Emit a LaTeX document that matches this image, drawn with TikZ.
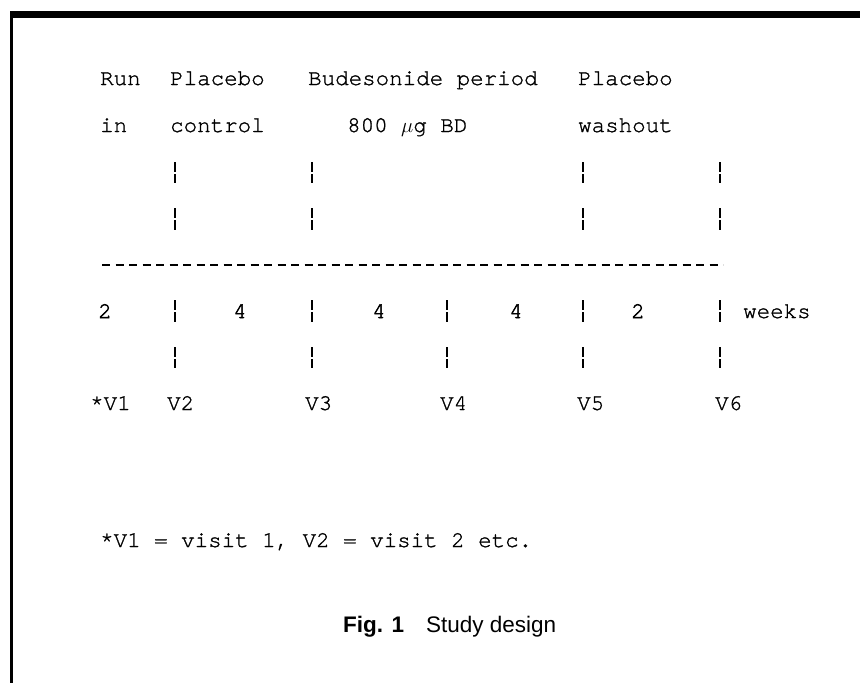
\documentclass[tikz,border=0pt]{standalone}
\usepackage{fontspec}
\newfontfamily\typefont[FakeBold=1.2]{TeX Gyre Cursor}
\newfontfamily\numfont[FakeBold=2.2]{TeX Gyre Cursor}
\newfontfamily\capfont{Liberation Sans}
\begin{document}
\begin{tikzpicture}[x=1pt,y=-1pt,
    txt/.style={anchor=base west,inner sep=0pt,font=\typefont\fontsize{22.5}{27}\selectfont},
    num/.style={txt,anchor=base,font=\numfont\fontsize{22.5}{27}\selectfont},
    captxt/.style={anchor=base west,inner sep=0pt,font=\capfont\fontsize{22.5}{27}\selectfont},
    bar/.style={line width=1.4pt,dash pattern=on 10pt off 2pt}]
    \useasboundingbox (0,0) rectangle (860,683);
    % frame
    \draw[line width=7pt] (10,14.5) -- (860,14.5);
    \draw[line width=2.5pt] (11.25,11) -- (11.25,683);
    % periods
    \node[txt] (run) at (100,85) {Run};
    \node[txt] (plac) at (170,85) {Placebo};
    \node[txt] (bud) at (308,85) {Budesonide period};
    \node[txt] (plac2) at (578,85) {Placebo};
    \node[txt] (in) at (100,132) {in};
    \node[txt] (ctrl) at (170,132) {control};
    \node[txt] (dose) at (347,132) {800 $\mu$g BD};
    \node[txt] (wash) at (578,132) {washout};
    \foreach \x in {175,312,583,720} {
        \draw[bar] (\x,162) -- (\x,183);
        \draw[bar] (\x,208) -- (\x,230);
    }
    \draw[line width=1.8pt,dash pattern=on 8pt off 5.5pt] (102,265) -- (723,265);
    % weeks and visits
    \foreach \x in {175,312,447,583,720} {
        \draw[bar] (\x,300) -- (\x,322);
        \draw[bar] (\x,347) -- (\x,368);
    }
    \foreach \x/\n [count=\i] in {105/2,240/4,379/4,516/4,638/2}
        \node[num] (wk\i) at (\x,318) {\n};
    \node[txt] (weeks) at (743,318) {weeks};
    \node[txt] (v1) at (90,410) {*V1};
    \foreach \x [count=\i from 2] in {167,305,440,577,715}
        \node[txt] (v\i) at (\x,410) {V\i};
    \node[txt] (note) at (100,547) {*V1 = visit 1, V2 = visit 2 etc.};
    \node[captxt,font=\capfont\bfseries\fontsize{22.5}{27}\selectfont] (fig) at (343,632) {Fig. 1};
    \node[captxt] (title) at (426,632) {Study design};
\end{tikzpicture}
\end{document}
